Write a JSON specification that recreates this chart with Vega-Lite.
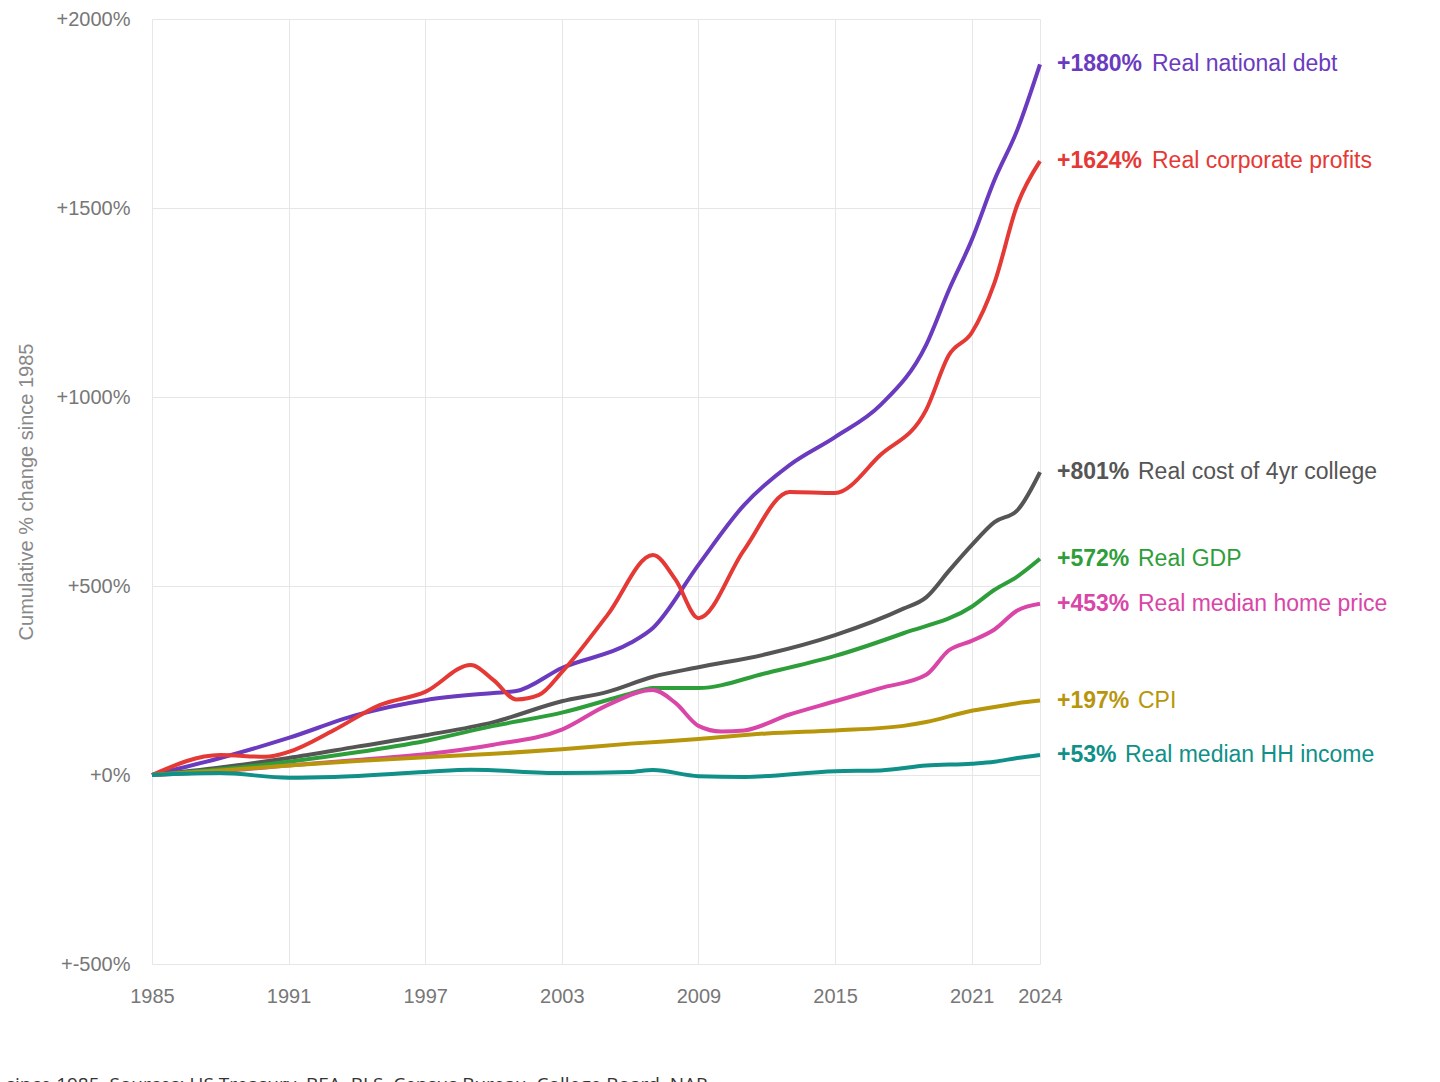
{
  "$schema": "https://vega.github.io/schema/vega-lite/v6.json",
  "width": 888,
  "height": 945,
  "autosize": "none",
  "padding": {"left": 152, "top": 19, "right": 400, "bottom": 118},
  "background": "white",
  "config": {"view": {"stroke": null}, "font": "Liberation Sans"},
  "title": {
    "text": "Percent change since 1985. Sources: US Treasury, BEA, BLS, Census Bureau, College Board, NAR.",
    "orient": "bottom", "anchor": "start", "dx": -152, "offset": 70,
    "font": "Open Sans", "fontSize": 19, "fontWeight": "normal", "color": "#333333"
  },
  "datasets": {
    "series": [
      {"s": "Real national debt", "year": 1985, "v": 0}, {"s": "Real national debt", "year": 1988, "v": 45}, {"s": "Real national debt", "year": 1991, "v": 98}, {"s": "Real national debt", "year": 1994, "v": 159}, {"s": "Real national debt", "year": 1997, "v": 198}, {"s": "Real national debt", "year": 2000, "v": 217}, {"s": "Real national debt", "year": 2001, "v": 222}, {"s": "Real national debt", "year": 2003, "v": 283}, {"s": "Real national debt", "year": 2006, "v": 349}, {"s": "Real national debt", "year": 2007, "v": 389}, {"s": "Real national debt", "year": 2009, "v": 556}, {"s": "Real national debt", "year": 2011, "v": 714}, {"s": "Real national debt", "year": 2013, "v": 820}, {"s": "Real national debt", "year": 2015, "v": 894}, {"s": "Real national debt", "year": 2017, "v": 979}, {"s": "Real national debt", "year": 2019, "v": 1138}, {"s": "Real national debt", "year": 2020, "v": 1283}, {"s": "Real national debt", "year": 2021, "v": 1415}, {"s": "Real national debt", "year": 2022, "v": 1574}, {"s": "Real national debt", "year": 2023, "v": 1706}, {"s": "Real national debt", "year": 2024, "v": 1880},
      {"s": "Real corporate profits", "year": 1985, "v": 0}, {"s": "Real corporate profits", "year": 1988, "v": 53}, {"s": "Real corporate profits", "year": 1990, "v": 48}, {"s": "Real corporate profits", "year": 1991, "v": 61}, {"s": "Real corporate profits", "year": 1993, "v": 119}, {"s": "Real corporate profits", "year": 1995, "v": 185}, {"s": "Real corporate profits", "year": 1997, "v": 220}, {"s": "Real corporate profits", "year": 1999, "v": 291}, {"s": "Real corporate profits", "year": 2000, "v": 251}, {"s": "Real corporate profits", "year": 2001, "v": 200}, {"s": "Real corporate profits", "year": 2002, "v": 212}, {"s": "Real corporate profits", "year": 2003, "v": 272}, {"s": "Real corporate profits", "year": 2005, "v": 423}, {"s": "Real corporate profits", "year": 2007, "v": 582}, {"s": "Real corporate profits", "year": 2008, "v": 516}, {"s": "Real corporate profits", "year": 2009, "v": 415}, {"s": "Real corporate profits", "year": 2011, "v": 595}, {"s": "Real corporate profits", "year": 2013, "v": 749}, {"s": "Real corporate profits", "year": 2015, "v": 746}, {"s": "Real corporate profits", "year": 2017, "v": 847}, {"s": "Real corporate profits", "year": 2019, "v": 966}, {"s": "Real corporate profits", "year": 2020, "v": 1111}, {"s": "Real corporate profits", "year": 2021, "v": 1170}, {"s": "Real corporate profits", "year": 2022, "v": 1302}, {"s": "Real corporate profits", "year": 2023, "v": 1508}, {"s": "Real corporate profits", "year": 2024, "v": 1624},
      {"s": "Real cost of 4yr college", "year": 1985, "v": 0}, {"s": "Real cost of 4yr college", "year": 1988, "v": 20}, {"s": "Real cost of 4yr college", "year": 1991, "v": 45}, {"s": "Real cost of 4yr college", "year": 1994, "v": 75}, {"s": "Real cost of 4yr college", "year": 1997, "v": 105}, {"s": "Real cost of 4yr college", "year": 2000, "v": 140}, {"s": "Real cost of 4yr college", "year": 2003, "v": 195}, {"s": "Real cost of 4yr college", "year": 2005, "v": 220}, {"s": "Real cost of 4yr college", "year": 2007, "v": 260}, {"s": "Real cost of 4yr college", "year": 2009, "v": 285}, {"s": "Real cost of 4yr college", "year": 2012, "v": 320}, {"s": "Real cost of 4yr college", "year": 2015, "v": 370}, {"s": "Real cost of 4yr college", "year": 2018, "v": 440}, {"s": "Real cost of 4yr college", "year": 2019, "v": 470}, {"s": "Real cost of 4yr college", "year": 2020, "v": 540}, {"s": "Real cost of 4yr college", "year": 2021, "v": 608}, {"s": "Real cost of 4yr college", "year": 2022, "v": 669}, {"s": "Real cost of 4yr college", "year": 2023, "v": 700}, {"s": "Real cost of 4yr college", "year": 2024, "v": 801},
      {"s": "Real GDP", "year": 1985, "v": 0}, {"s": "Real GDP", "year": 1988, "v": 15}, {"s": "Real GDP", "year": 1991, "v": 35}, {"s": "Real GDP", "year": 1994, "v": 60}, {"s": "Real GDP", "year": 1997, "v": 90}, {"s": "Real GDP", "year": 2000, "v": 130}, {"s": "Real GDP", "year": 2003, "v": 165}, {"s": "Real GDP", "year": 2006, "v": 215}, {"s": "Real GDP", "year": 2007, "v": 230}, {"s": "Real GDP", "year": 2009, "v": 230}, {"s": "Real GDP", "year": 2012, "v": 270}, {"s": "Real GDP", "year": 2015, "v": 315}, {"s": "Real GDP", "year": 2018, "v": 375}, {"s": "Real GDP", "year": 2021, "v": 445}, {"s": "Real GDP", "year": 2022, "v": 490}, {"s": "Real GDP", "year": 2023, "v": 525}, {"s": "Real GDP", "year": 2024, "v": 572},
      {"s": "Real median home price", "year": 1985, "v": 0}, {"s": "Real median home price", "year": 1988, "v": 10}, {"s": "Real median home price", "year": 1991, "v": 25}, {"s": "Real median home price", "year": 1994, "v": 40}, {"s": "Real median home price", "year": 1997, "v": 55}, {"s": "Real median home price", "year": 2000, "v": 80}, {"s": "Real median home price", "year": 2003, "v": 120}, {"s": "Real median home price", "year": 2005, "v": 185}, {"s": "Real median home price", "year": 2007, "v": 225}, {"s": "Real median home price", "year": 2008, "v": 190}, {"s": "Real median home price", "year": 2009, "v": 130}, {"s": "Real median home price", "year": 2010, "v": 115}, {"s": "Real median home price", "year": 2011, "v": 118}, {"s": "Real median home price", "year": 2013, "v": 160}, {"s": "Real median home price", "year": 2015, "v": 195}, {"s": "Real median home price", "year": 2017, "v": 230}, {"s": "Real median home price", "year": 2019, "v": 265}, {"s": "Real median home price", "year": 2020, "v": 330}, {"s": "Real median home price", "year": 2021, "v": 355}, {"s": "Real median home price", "year": 2022, "v": 385}, {"s": "Real median home price", "year": 2023, "v": 435}, {"s": "Real median home price", "year": 2024, "v": 453},
      {"s": "CPI", "year": 1985, "v": 0}, {"s": "CPI", "year": 1988, "v": 12}, {"s": "CPI", "year": 1991, "v": 25}, {"s": "CPI", "year": 1994, "v": 37}, {"s": "CPI", "year": 1997, "v": 47}, {"s": "CPI", "year": 2000, "v": 56}, {"s": "CPI", "year": 2003, "v": 68}, {"s": "CPI", "year": 2006, "v": 83}, {"s": "CPI", "year": 2009, "v": 95}, {"s": "CPI", "year": 2012, "v": 110}, {"s": "CPI", "year": 2015, "v": 118}, {"s": "CPI", "year": 2018, "v": 130}, {"s": "CPI", "year": 2019, "v": 140}, {"s": "CPI", "year": 2021, "v": 170}, {"s": "CPI", "year": 2022, "v": 180}, {"s": "CPI", "year": 2023, "v": 190}, {"s": "CPI", "year": 2024, "v": 197},
      {"s": "Real median HH income", "year": 1985, "v": 0}, {"s": "Real median HH income", "year": 1988, "v": 5}, {"s": "Real median HH income", "year": 1991, "v": -7}, {"s": "Real median HH income", "year": 1993, "v": -5}, {"s": "Real median HH income", "year": 1997, "v": 8}, {"s": "Real median HH income", "year": 1999, "v": 14}, {"s": "Real median HH income", "year": 2003, "v": 5}, {"s": "Real median HH income", "year": 2006, "v": 8}, {"s": "Real median HH income", "year": 2007, "v": 13}, {"s": "Real median HH income", "year": 2009, "v": -3}, {"s": "Real median HH income", "year": 2011, "v": -5}, {"s": "Real median HH income", "year": 2015, "v": 10}, {"s": "Real median HH income", "year": 2017, "v": 12}, {"s": "Real median HH income", "year": 2019, "v": 25}, {"s": "Real median HH income", "year": 2021, "v": 30}, {"s": "Real median HH income", "year": 2022, "v": 35}, {"s": "Real median HH income", "year": 2023, "v": 45}, {"s": "Real median HH income", "year": 2024, "v": 53}
    ],
    "labels": [
      {"s": "Real national debt", "year": 2024, "v": 1880, "pct": "+1880%"},
      {"s": "Real corporate profits", "year": 2024, "v": 1624, "pct": "+1624%"},
      {"s": "Real cost of 4yr college", "year": 2024, "v": 801, "pct": "+801%"},
      {"s": "Real GDP", "year": 2024, "v": 572, "pct": "+572%"},
      {"s": "Real median home price", "year": 2024, "v": 453, "pct": "+453%"},
      {"s": "CPI", "year": 2024, "v": 197, "pct": "+197%"},
      {"s": "Real median HH income", "year": 2024, "v": 53, "pct": "+53%"}
    ]
  },
  "encoding": {
    "x": {"field": "year", "type": "quantitative", "scale": {"domain": [1985, 2024], "nice": false},
      "axis": {"values": [1985, 1991, 1997, 2003, 2009, 2015, 2021, 2024], "format": "d", "title": null, "domain": false, "ticks": false,
        "labelFontSize": 20, "labelColor": "#777777", "labelPadding": 22, "gridColor": "#e6e6e6", "labelFlush": false}},
    "y": {"field": "v", "type": "quantitative", "scale": {"domain": [-500, 2000], "nice": false},
      "axis": {"values": [-500, 0, 500, 1000, 1500, 2000], "labelExpr": "'+' + datum.value + '%'", "title": "Cumulative % change since 1985",
        "titleFontSize": 20, "titleFontWeight": "normal", "titleColor": "#888888", "titlePadding": 20, "domain": false, "ticks": false,
        "labelFontSize": 20, "labelColor": "#777777", "labelPadding": 22, "gridColor": "#e6e6e6"}},
    "color": {"field": "s", "type": "nominal", "legend": null,
      "scale": {"domain": ["Real national debt", "Real corporate profits", "Real cost of 4yr college", "Real GDP", "Real median home price", "CPI", "Real median HH income"],
        "range": ["#6a3bbf", "#e53935", "#555555", "#2e9e3a", "#d946a8", "#b8960c", "#0f9088"]}}
  },
  "layer": [
    {"data": {"name": "series"}, "mark": {"type": "line", "strokeWidth": 4, "interpolate": "monotone"}},
    {"data": {"name": "labels"}, "mark": {"type": "text", "align": "left", "dx": 17, "fontSize": 23, "fontWeight": "bold", "baseline": "middle"},
      "encoding": {"text": {"field": "pct"}}},
    {"data": {"name": "labels"}, "transform": [{"filter": "length(datum.pct) == 6"}],
      "mark": {"type": "text", "align": "left", "dx": 112, "fontSize": 23, "baseline": "middle"}, "encoding": {"text": {"field": "s"}}},
    {"data": {"name": "labels"}, "transform": [{"filter": "length(datum.pct) == 5"}],
      "mark": {"type": "text", "align": "left", "dx": 98, "fontSize": 23, "baseline": "middle"}, "encoding": {"text": {"field": "s"}}},
    {"data": {"name": "labels"}, "transform": [{"filter": "length(datum.pct) == 4"}],
      "mark": {"type": "text", "align": "left", "dx": 85, "fontSize": 23, "baseline": "middle"}, "encoding": {"text": {"field": "s"}}}
  ]
}
